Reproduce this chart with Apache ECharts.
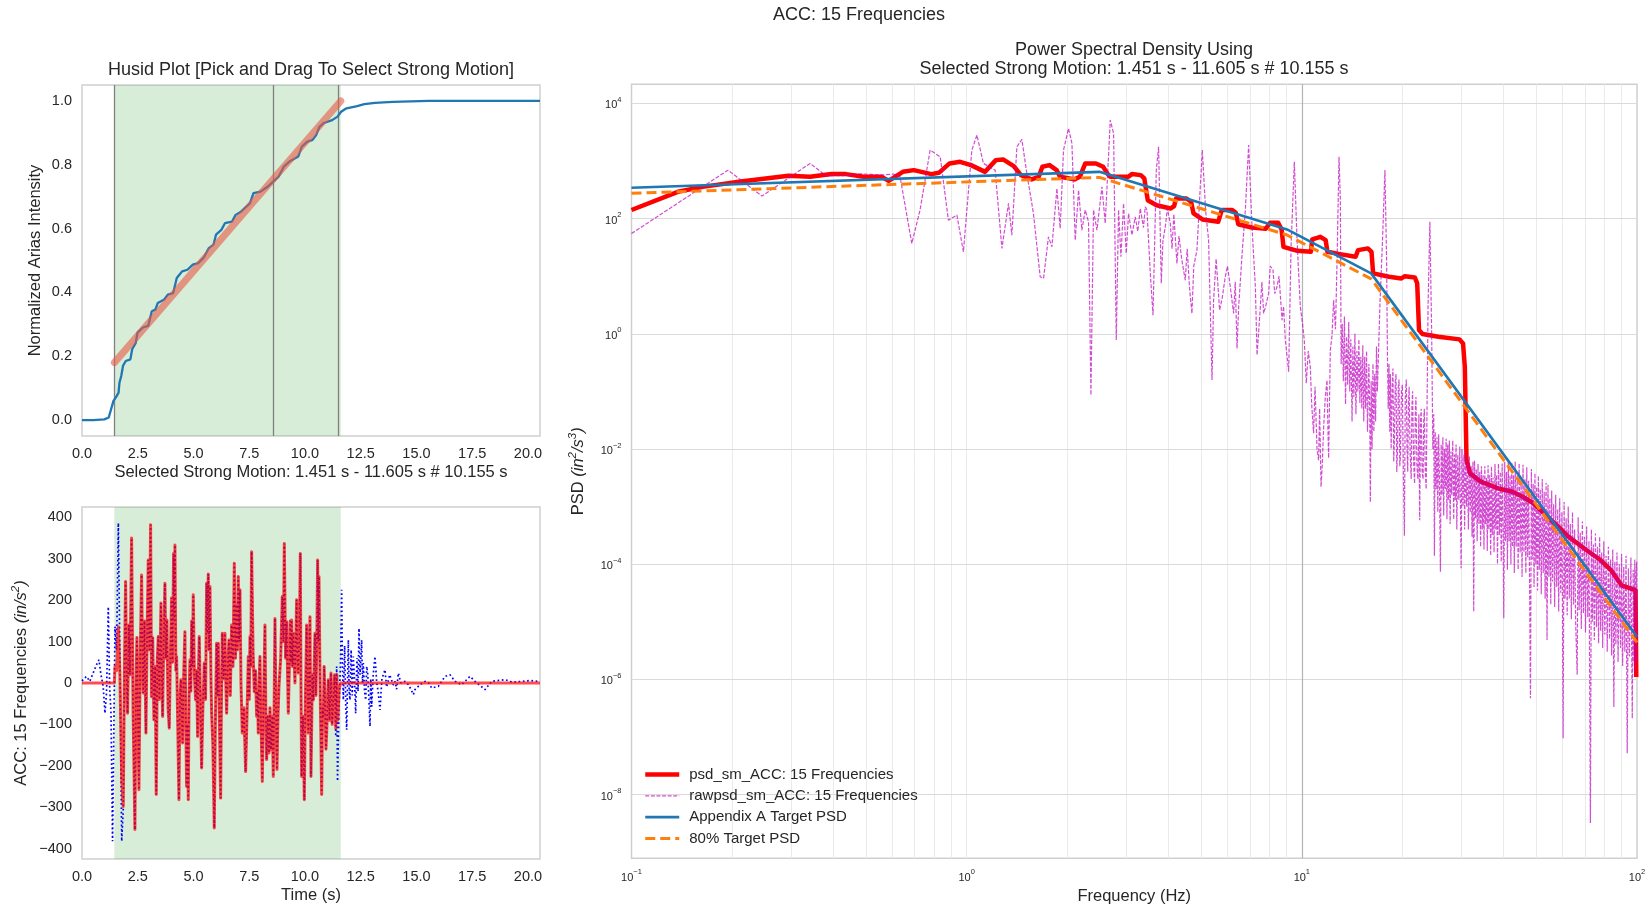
<!DOCTYPE html>
<html>
<head>
<meta charset="utf-8">
<title>ACC: 15 Frequencies</title>
<script src="https://cdn.jsdelivr.net/npm/echarts@6/dist/echarts.min.js"></script>
<style>
  html, body { margin: 0; padding: 0; background: #ffffff; }
  #chart { width: 1652px; height: 911px; }
</style>
</head>
<body>
<div id="chart"></div>
<script>
// ---------------------------------------------------------------------------
// Strong-motion selection
const selStart = 1.451;
const selEnd = 11.605;
const selDur = 10.155;
const husidMarks = [1.451, 8.57, 11.47];

// Husid plot: normalized Arias intensity [time s, intensity]
const husid = [
  [0, 0], [0.5, 0], [1.0, 0.002], [1.2, 0.008], [1.28, 0.013], [1.41, 0.06], [1.52, 0.071],
  [1.6, 0.075], [1.64, 0.086], [1.68, 0.117], [1.76, 0.138], [1.84, 0.17], [1.96, 0.185],
  [2.17, 0.19], [2.25, 0.222], [2.41, 0.242], [2.49, 0.274], [2.73, 0.29], [2.97, 0.295],
  [3.13, 0.341], [3.29, 0.346], [3.4, 0.367], [3.69, 0.378], [3.85, 0.393], [4.09, 0.398],
  [4.25, 0.445], [4.49, 0.466], [4.73, 0.471], [4.97, 0.487], [5.21, 0.492], [5.45, 0.508],
  [5.69, 0.539], [5.9, 0.55], [6.01, 0.581], [6.25, 0.596], [6.41, 0.617], [6.73, 0.622],
  [6.89, 0.643], [7.13, 0.653], [7.37, 0.669], [7.53, 0.679], [7.69, 0.711], [8.01, 0.716],
  [8.34, 0.732], [8.57, 0.747], [8.82, 0.763], [9.05, 0.794], [9.3, 0.81], [9.7, 0.826],
  [9.86, 0.857], [10.09, 0.872], [10.34, 0.878], [10.5, 0.893], [10.65, 0.919], [10.82, 0.93],
  [11.22, 0.94], [11.46, 0.951], [11.62, 0.966], [11.86, 0.977], [12.34, 0.984], [12.66, 0.99],
  [13.14, 0.994], [13.94, 0.997], [15.55, 1.0], [20.54, 1.0]
];
// Linear fit over the selected window
const husidFit = [[1.451, 0.18], [11.605, 1.0]];

// Acceleration time history [time s, in/s^2]
const accRaw = [
  [0, 5], [0.06, 8], [0.2, 16], [0.35, 4], [0.5, 24], [0.65, 44], [0.76, 56], [0.85, 20],
  [0.95, -8], [1.03, -73], [1.1, -24], [1.18, 184], [1.24, -8], [1.3, -73], [1.37, -382],
  [1.48, 136], [1.55, 80], [1.63, 386], [1.7, 60], [1.78, -382], [1.85, -306], [1.91, 60],
  [1.955, 245], [2.0, 30], [2.044, -73], [2.1, 140], [2.15, 20], [2.224, 350], [2.29, -60],
  [2.373, -354], [2.42, -20], [2.463, 110], [2.51, -80], [2.553, -258], [2.61, 60], [2.672, 261],
  [2.72, 40], [2.747, -24], [2.8, 150], [2.867, -121], [2.92, 120], [2.971, 297], [3.02, 80],
  [3.076, 382], [3.121, -33], [3.17, 110], [3.226, -89], [3.28, 40], [3.33, -269], [3.38, 60],
  [3.42, 112], [3.47, -40], [3.54, 193], [3.58, 20], [3.615, -81], [3.66, 90], [3.719, 241],
  [3.76, 60], [3.809, 152], [3.86, -60], [3.913, -109], [3.97, 80], [4.018, 205], [4.06, 50],
  [4.108, 313], [4.14, 150], [4.168, 333], [4.21, 30], [4.243, 64], [4.3, -120], [4.347, -282],
  [4.39, -40], [4.437, 8], [4.47, -60], [4.512, -145], [4.56, 20], [4.616, 124], [4.65, -60],
  [4.691, -250], [4.73, -100], [4.766, -282], [4.8, -40], [4.841, 56], [4.88, -20], [4.92, 150],
  [4.95, 40], [4.99, 213], [5.04, 20], [5.095, -41], [5.14, 30], [5.185, -129], [5.22, 20],
  [5.259, 112], [5.31, -40], [5.364, -205], [5.42, -60], [5.484, 48], [5.54, -40], [5.589, 241],
  [5.62, 120], [5.663, 263], [5.7, 80], [5.74, 233], [5.78, 20], [5.813, -73], [5.87, -150],
  [5.932, -350], [5.98, -100], [6.037, 96], [6.07, -30], [6.112, 96], [6.16, -80], [6.217, -278],
  [6.25, -60], [6.291, 120], [6.35, 10], [6.411, 120], [6.45, 0], [6.486, -73], [6.54, 40],
  [6.59, 104], [6.65, -30], [6.71, 140], [6.77, 40], [6.83, 289], [6.88, 60], [6.934, 189],
  [6.97, 80], [7.009, 257], [7.05, 100], [7.084, 225], [7.13, 0], [7.188, -121], [7.26, -60],
  [7.338, -214], [7.4, -80], [7.458, 64], [7.5, -40], [7.532, 112], [7.57, 40], [7.607, 317],
  [7.67, 80], [7.727, -21], [7.78, 30], [7.832, -81], [7.87, -20], [7.906, -121], [7.94, 0],
  [7.981, 64], [8.03, -100], [8.086, -238], [8.15, -20], [8.205, 140], [8.24, -60], [8.28, -185],
  [8.33, -80], [8.385, -169], [8.43, -60], [8.475, -161], [8.53, -80], [8.579, -226], [8.62, -40],
  [8.654, 156], [8.7, -60], [8.744, -209], [8.79, -80], [8.834, -8], [8.91, 60], [8.983, 209],
  [9.03, 100], [9.073, 337], [9.13, 60], [9.178, 148], [9.22, 20], [9.252, -73], [9.3, 40],
  [9.34, 150], [9.37, 50], [9.402, 152], [9.44, 40], [9.477, 120], [9.55, 0], [9.626, 201],
  [9.66, 60], [9.701, 24], [9.75, 120], [9.791, 313], [9.82, 0], [9.851, -226], [9.91, -80],
  [9.97, -282], [10.02, -40], [10.075, 140], [10.149, -121], [10.224, 160], [10.269, -226],
  [10.33, 20], [10.374, -41], [10.449, 120], [10.49, -30], [10.524, 72], [10.568, 297],
  [10.6, 100], [10.628, 257], [10.673, 16], [10.71, -120], [10.748, -269], [10.79, -60],
  [10.822, -81], [10.86, 40], [10.897, -41], [10.94, -160], [10.972, -121], [11.01, -60],
  [11.047, 8], [11.1, -90], [11.166, 24], [11.22, -100], [11.271, -41], [11.33, 20],
  [11.38, -129], [11.421, 40], [11.46, -237], [11.53, -50], [11.6, 60], [11.645, 225],
  [11.68, 40], [11.72, -41], [11.78, 90], [11.83, -60], [11.87, -113], [11.944, 104],
  [11.98, -20], [12.019, -41], [12.07, 80], [12.12, -30], [12.168, 64], [12.22, 10],
  [12.273, -73], [12.33, 60], [12.38, -20], [12.423, 132], [12.47, 20], [12.542, 104],
  [12.58, 0], [12.617, 48], [12.67, -20], [12.722, -41], [12.77, 40], [12.811, 24],
  [12.86, -30], [12.916, -105], [12.95, 10], [12.991, -57], [13.06, 20], [13.14, 64],
  [13.22, 0], [13.29, -24], [13.365, -65], [13.45, 10], [13.589, 32], [13.66, -10],
  [13.739, -8], [13.8, 20], [13.888, 24], [13.96, -5], [14.038, 4], [14.11, -15], [14.187, 24],
  [14.3, 0], [14.486, 4], [14.636, -4], [14.75, -15], [14.86, -28], [14.935, -16], [15.159, -4],
  [15.384, 4], [15.55, 0], [15.683, -12], [15.982, -8], [16.281, 16], [16.505, 20], [16.729, 4],
  [17.029, -4], [17.403, 16], [17.627, 4], [18.076, -16], [18.375, 4], [18.973, 8], [19.3, 2],
  [19.72, 4], [20.1, 6], [20.468, 4]
];
// Tapered edges of the selected (windowed) record
const accSelHead = [[1.48, 40], [1.55, 30], [1.63, 136], [1.7, 20], [1.78, -230], [1.85, -298]];
const accSelTail = [[11.33, 20], [11.38, -110], [11.43, 20], [11.47, -90], [11.53, -15]];

// Power spectral density [frequency Hz, in^2/s^3]
const psdSmooth = [
  [0.1, 141], [0.1375, 292], [0.163, 356], [0.209, 435], [0.294, 553], [0.341, 532], [0.395, 593],
  [0.436, 593], [0.493, 532], [0.557, 532], [0.585, 453], [0.645, 649], [0.695, 695], [0.785, 593],
  [0.826, 624], [0.889, 909], [0.956, 968], [1.03, 849], [1.135, 649], [1.222, 1037], [1.284, 1066],
  [1.382, 816], [1.452, 569], [1.562, 480], [1.641, 532], [1.682, 794], [1.767, 849], [1.855, 695],
  [1.901, 532], [2.098, 480], [2.176, 532], [2.259, 909], [2.43, 909], [2.555, 794], [2.627, 609],
  [2.68, 532], [3.038, 532], [3.112, 593], [3.307, 569], [3.388, 499], [3.47, 209], [3.687, 171],
  [4.062, 150], [4.16, 165], [4.212, 224], [4.526, 224], [4.672, 196], [4.753, 123], [5.051, 96.8],
  [5.629, 88], [5.77, 141], [6.2, 141], [6.353, 126], [6.463, 80], [7.087, 70], [7.806, 66.5],
  [8.037, 84.5], [8.499, 84.5], [8.703, 64.9], [8.813, 32.4], [9.703, 27.6], [10.64, 26.5],
  [10.74, 43.5], [11.36, 48.3], [11.78, 42.4], [11.92, 26.5], [12.98, 24.2], [14.47, 21.7],
  [14.72, 28.4], [15.74, 30.4], [16.14, 26.5], [16.32, 11.2], [18.21, 9.77], [19.82, 9.16],
  [20.3, 10.0], [21.73, 9.53], [22.09, 7.5], [22.37, 1.16], [22.91, 0.99], [25.56, 0.887],
  [29.54, 0.8], [30.27, 0.68], [30.64, 0.267], [31.0, 0.0064], [31.76, 0.00377], [34.2, 0.0027],
  [38.5, 0.00207], [42.5, 0.00181], [45.6, 0.00148], [49.1, 0.00114], [54.1, 0.000665],
  [58.2, 0.000446], [62.5, 0.000299], [70.6, 0.000176], [77.8, 0.000118], [83.6, 0.000079],
  [89.9, 0.000043], [99.0, 0.0000355], [99.5, 0.0000011]
];
const psdRaw = [
  [0.1, 55], [0.194, 695], [0.245, 246], [0.341, 909], [0.381, 553], [0.43, 560], [0.48, 600],
  [0.52, 585], [0.552, 569], [0.605, 593], [0.633, 532], [0.686, 37], [0.726, 141], [0.778, 1546],
  [0.834, 1183], [0.882, 94], [0.935, 115], [0.978, 26.5], [1.036, 1546], [1.073, 2818],
  [1.122, 909], [1.216, 695], [1.274, 30.4], [1.333, 184], [1.364, 51.7], [1.412, 1765],
  [1.461, 2371], [1.512, 609], [1.582, 123], [1.657, 9.77], [1.696, 9.16], [1.754, 48.3],
  [1.796, 32.4], [1.859, 334], [1.901, 67.6], [1.945, 1546], [2.013, 3681], [2.061, 2021],
  [2.108, 42.4], [2.157, 313], [2.207, 63], [2.258, 141], [2.31, 88], [2.348, 0.086], [2.39, 141],
  [2.447, 63], [2.533, 356], [2.591, 82.6], [2.682, 5129], [2.744, 3013], [2.795, 0.78],
  [2.839, 141], [2.886, 21.7], [2.938, 184], [2.993, 24.9], [3.041, 123], [3.112, 51.7],
  [3.184, 107], [3.24, 60], [3.296, 150], [3.37, 70], [3.41, 160], [3.451, 141], [3.531, 11.2],
  [3.597, 2.11], [3.68, 695], [3.738, 1765], [3.807, 7.5], [3.85, 40], [3.914, 72], [3.97, 150],
  [4.05, 82.6], [4.1, 30], [4.15, 120], [4.24, 16.7], [4.3, 50], [4.38, 20], [4.489, 8.56],
  [4.55, 30], [4.624, 6.14], [4.7, 2.26], [4.76, 15], [4.865, 28.4], [4.977, 356], [5.047, 1546],
  [5.162, 141], [5.27, 42.4], [5.395, 0.157], [5.455, 3.85], [5.55, 20], [5.684, 2.58], [5.78, 4],
  [5.91, 9.77], [6.0, 15], [6.117, 6.55], [6.258, 2.26], [6.33, 8], [6.407, 0.558], [6.48, 3],
  [6.554, 2.94], [6.65, 30], [6.783, 141], [6.939, 1888], [7.102, 72], [7.266, 6.55],
  [7.352, 0.427], [7.52, 2.94], [7.6, 8], [7.691, 2.26], [7.8, 3], [7.96, 5.03], [8.05, 15],
  [8.204, 12.8], [8.3, 5], [8.433, 6.55], [8.55, 10], [8.729, 1.73], [8.82, 3], [8.929, 0.78],
  [9.135, 0.219], [9.286, 32.4], [9.498, 968], [9.676, 42.4], [9.897, 2.94], [10.05, 1.5],
  [10.17, 0.78], [10.31, 0.138], [10.45, 0.5], [10.6, 0.267], [10.7, 0.06], [10.84, 0.0187],
  [10.95, 0.12], [11.1, 0.01], [11.22, 0.0064], [11.3, 0.05], [11.41, 0.0022], [11.5, 0.005],
  [11.62, 0.0243], [11.75, 0.08], [11.89, 0.157], [11.95, 0.03], [12.02, 0.0069], [12.16, 0.521],
  [12.3, 0.9], [12.44, 3.85], [12.6, 1.2], [12.74, 19], [12.91, 1183], [13.03, 209],
  [13.1, 0.3], [13.2, 1.5], [13.3, 0.15], [13.4, 2.0], [13.5, 0.06], [13.6, 0.9], [13.7, 0.13],
  [13.8, 1.6], [13.9, 0.1], [14.0, 0.8], [14.12, 0.03], [14.2, 0.6], [14.3, 0.08], [14.4, 1.0],
  [14.5, 0.04], [14.6, 0.5], [14.7, 0.1], [14.8, 0.8], [14.9, 0.063], [15.0, 0.4], [15.1, 0.05],
  [15.2, 0.63], [15.3, 0.03], [15.4, 0.4], [15.5, 0.05], [15.6, 0.5], [15.7, 0.02], [15.85, 0.3],
  [15.95, 0.04], [16.01, 0.0012], [16.1, 0.15], [16.2, 0.01], [16.3, 0.3], [16.4, 0.02],
  [16.5, 0.2], [16.6, 0.03], [16.7, 0.6], [16.8, 0.1], [17.1, 3.2], [17.4, 40], [17.7, 695],
  [17.9, 20], [18.0, 0.5], [18.1, 0.05], [18.2, 0.3], [18.3, 0.02], [18.38, 0.2], [18.47, 0.01],
  [18.6, 0.12], [18.7, 0.25], [18.8, 0.006], [18.9, 0.016], [19.0, 0.15], [19.1, 0.2],
  [19.2, 0.004], [19.3, 0.01], [19.4, 0.12], [19.5, 0.16], [19.6, 0.005], [19.7, 0.008],
  [19.82, 0.1], [19.95, 0.13], [20.1, 0.003], [20.23, 0.00031], [20.35, 0.08], [20.5, 0.16],
  [20.6, 0.01], [20.7, 0.004], [20.8, 0.06], [20.9, 0.12], [21.05, 0.008], [21.2, 0.003],
  [21.3, 0.05], [21.4, 0.1], [21.55, 0.006], [21.7, 0.0025], [21.8, 0.04], [21.9, 0.08],
  [22.05, 0.005], [22.2, 0.003], [22.35, 0.04], [22.47, 0.00058], [22.6, 0.03], [22.7, 0.05],
  [22.85, 0.004], [23.0, 0.003], [23.1, 0.03], [23.2, 0.05], [23.35, 0.004], [23.5, 0.002],
  [23.8, 3.0], [24.1, 88], [24.4, 1.0], [24.6, 0.01], [24.75, 0.04], [24.86, 0.00014],
  [25.0, 0.02], [25.15, 0.002], [25.3, 0.016], [25.45, 0.0008], [25.6, 0.018], [25.75, 0.0025],
  [25.91, 0.000074], [26.05, 0.012], [26.2, 0.0016], [26.35, 0.016], [26.5, 0.0007],
  [26.65, 0.01], [26.8, 0.002], [26.95, 0.015], [27.1, 0.0006], [27.25, 0.012], [27.4, 0.0013],
  [27.55, 0.014], [27.7, 0.0005], [27.85, 0.009], [28.0, 0.0016], [28.2, 0.014], [28.39, 0.0006],
  [28.55, 0.008], [28.7, 0.0013], [28.85, 0.012], [29.0, 0.0004], [29.2, 0.0079], [29.4, 0.0013],
  [29.6, 0.011], [29.87, 0.000085], [30.05, 0.01], [30.25, 0.001], [30.45, 0.0079], [30.6, 0.0004],
  [30.8, 0.009], [31.0, 0.001], [31.2, 0.0063], [31.4, 0.0004], [31.6, 0.0075], [31.8, 0.00079],
  [32.0, 0.005], [32.2, 0.0003], [32.4, 0.006], [32.57, 0.000015], [32.75, 0.0063],
  [32.95, 0.00063], [33.15, 0.0045], [33.35, 0.00025], [33.55, 0.0055], [33.75, 0.0005],
  [33.95, 0.004], [34.15, 0.0002], [34.35, 0.005], [34.55, 0.0004], [34.75, 0.0035],
  [34.95, 0.00018], [35.15, 0.005], [35.35, 0.0005], [35.55, 0.0032], [35.75, 0.00017],
  [35.95, 0.0052], [36.15, 0.0004], [36.35, 0.0035], [36.6, 0.00014], [36.8, 0.005],
  [37.0, 0.00032], [37.2, 0.0032], [37.45, 0.00016], [37.7, 0.0055], [37.9, 0.0004],
  [38.1, 0.0035], [38.35, 0.0001], [38.6, 0.0056], [38.85, 0.00032], [39.1, 0.004],
  [39.35, 0.00011], [39.6, 0.0056], [39.85, 0.00032], [40.04, 0.0000115], [40.3, 0.006],
  [40.55, 0.00025], [40.8, 0.004], [41.05, 0.00008], [41.3, 0.0063], [41.55, 0.00025],
  [41.8, 0.0035], [42.05, 0.0001], [42.3, 0.0058], [42.55, 0.0002], [42.8, 0.0035],
  [43.05, 0.00007], [43.3, 0.006], [43.6, 0.0002], [43.9, 0.0035], [44.2, 0.00008],
  [44.5, 0.0056], [44.8, 0.00016], [45.1, 0.003], [45.4, 0.00006], [45.7, 0.0053],
  [46.0, 0.00016], [46.3, 0.003], [46.6, 0.00007], [46.9, 0.0048], [47.2, 0.00013],
  [47.5, 0.0028], [47.8, 0.00005], [48.1, 0.00000047], [48.4, 0.0045], [48.7, 0.00012],
  [49.0, 0.0025], [49.3, 0.00004], [49.6, 0.0038], [49.9, 0.0001], [50.2, 0.0022],
  [50.5, 0.000035], [50.8, 0.0034], [51.1, 0.00008], [51.45, 0.002], [51.8, 0.00003],
  [52.15, 0.003], [52.5, 0.00007], [52.85, 0.0018], [53.2, 0.000025], [53.55, 0.0026],
  [53.9, 0.0000048], [54.25, 0.0024], [54.6, 0.00006], [54.95, 0.0014], [55.3, 0.00002],
  [55.65, 0.0019], [56.0, 0.00005], [56.4, 0.0011], [56.8, 0.000018], [57.2, 0.0016],
  [57.6, 0.00004], [58.0, 0.0009], [58.4, 0.000015], [58.8, 0.0014], [59.2, 0.000032],
  [59.7, 0.0008], [60.2, 0.000000095], [60.6, 0.0012], [61.0, 0.000025], [61.45, 0.00063],
  [61.9, 0.000013], [62.35, 0.001], [62.8, 0.000025], [63.25, 0.0005], [63.7, 0.000011],
  [64.2, 0.0008], [64.7, 0.00002], [65.15, 0.0004], [65.6, 0.00001], [66.3, 0.0000012],
  [66.75, 0.00065], [67.2, 0.000016], [67.7, 0.00035], [68.2, 0.0000075], [68.7, 0.00055],
  [69.2, 0.000014], [69.7, 0.0003], [70.2, 0.0000065], [70.75, 0.00045], [71.3, 0.000012],
  [71.9, 0.00025], [72.6, 0.0000000032], [73.1, 0.0004], [73.6, 0.00001], [74.1, 0.00022],
  [74.6, 0.0000048], [75.15, 0.00034], [75.7, 0.000008], [76.25, 0.0002], [76.8, 0.0000042],
  [77.35, 0.0003], [77.9, 0.000007], [78.45, 0.00016], [79.0, 0.0000035], [79.6, 0.00025],
  [80.2, 0.000006], [80.85, 0.00014], [81.5, 0.000003], [82.15, 0.0002], [82.8, 0.000005],
  [83.4, 0.00012], [84.0, 0.0000026], [84.65, 0.00018], [85.3, 0.00000033], [85.9, 0.00011],
  [86.5, 0.000004], [87.15, 0.00016], [87.8, 0.000002], [88.55, 0.0001], [89.3, 0.0000035],
  [89.95, 0.00015], [90.6, 0.0000017], [91.3, 0.00009], [92.0, 0.000003], [92.75, 0.00014],
  [93.5, 0.000000052], [94.25, 0.000085], [95.0, 0.0000025], [95.9, 0.00013], [96.8, 0.00000021],
  [97.4, 0.00008], [98.0, 0.000002], [98.5, 0.00012], [99.0, 0.0000013], [99.4, 0.00007],
  [99.8, 0.00011], [100, 0.000002]
];
const targetPsd = [[0.1, 343], [2.49, 649], [9.03, 64.9], [16.1, 11.2], [100, 0.0000055]];
const target80Psd = [[0.1, 275], [2.49, 519], [9.03, 52], [16.1, 9.0], [100, 0.0000044]];

// Tick values
const timeTicks = [0, 2.5, 5, 7.5, 10, 12.5, 15, 17.5, 20];
const husidTicks = [0, 0.2, 0.4, 0.6, 0.8, 1.0];
const accTicks = [-400, -300, -200, -100, 0, 100, 200, 300, 400];
const freqTicks = [0.1, 1, 10, 100];
const psdTicks = [1e-8, 1e-6, 1e-4, 1e-2, 1, 1e2, 1e4];

// ---------------------------------------------------------------------------
const FONT = '"Liberation Sans", Arial, Helvetica, sans-serif';
const INK = '#262626';
const MINUS = '\u2212';
const T_MAX = 20.54;
const PSD_YMIN = 7.8e-10, PSD_YMAX = 2.15e4;
const PSD_XMIN = 0.1, PSD_XMAX = 100;

const fmtSigned = v => (v < 0 ? MINUS + Math.abs(v) : String(v));
const fmtPow = v => {
  const e = Math.round(Math.log10(v));
  return '{b|10}{s|' + (e < 0 ? MINUS + Math.abs(e) : e) + '}';
};
const powRich = {
  b: { fontSize: 11, lineHeight: 15, verticalAlign: 'bottom', color: INK, fontFamily: FONT },
  s: { fontSize: 7.5, lineHeight: 8, verticalAlign: 'top', color: INK, fontFamily: FONT }
};
const unitRich = {
  i: { fontSize: 16.5, fontStyle: 'italic', color: INK, fontFamily: FONT, lineHeight: 20, verticalAlign: 'bottom' },
  u: { fontSize: 11.5, fontStyle: 'italic', color: INK, fontFamily: FONT, lineHeight: 11, verticalAlign: 'top' },
  n: { fontSize: 16.5, color: INK, fontFamily: FONT, lineHeight: 20, verticalAlign: 'bottom' }
};

// Selected window for the red trace (zero outside the window)
const headEnd = accSelHead[accSelHead.length - 1][0];
const tailStart = accSelTail[0][0];
const accSel = [[0, 0], [selStart, 0]]
  .concat(accSelHead)
  .concat(accRaw.filter(p => p[0] > headEnd && p[0] < tailStart))
  .concat(accSelTail)
  .concat([[selEnd, 0], [T_MAX, 0]]);

// Log-grid positions for the PSD panel
const minorFreqs = [];
[0.1, 1, 10].forEach(d => { for (let k = 2; k <= 9; k++) minorFreqs.push(+(k * d).toPrecision(3)); });
minorFreqs.push(1);

function vlines(xs, y0, y1) { return xs.map(x => ({ coords: [[x, y0], [x, y1]] })); }
function hlines(ys, x0, x1) { return ys.map(y => ({ coords: [[x0, y], [x1, y]] })); }

const baseAxis = {
  axisLine: { show: false },
  axisTick: { show: false },
  splitLine: { show: false },
  nameLocation: 'middle',
  nameTextStyle: { fontSize: 16.5, color: INK, fontFamily: FONT }
};
const titleStyle = { fill: INK, font: '18px ' + FONT, textAlign: 'center', textVerticalAlign: 'middle', align: 'center', verticalAlign: 'middle' };

const chart = echarts.init(document.getElementById('chart'), null, { renderer: 'canvas' });

const option = {
  animation: false,
  backgroundColor: '#ffffff',
  textStyle: { fontFamily: FONT, color: INK },
  graphic: [
    { type: 'text', x: 859, y: 15, style: Object.assign({ text: 'ACC: 15 Frequencies' }, titleStyle) },
    { type: 'text', x: 311, y: 70, style: Object.assign({ text: 'Husid Plot [Pick and Drag To Select Strong Motion]' }, titleStyle) },
    { type: 'text', x: 1134, y: 50, style: Object.assign({ text: 'Power Spectral Density Using' }, titleStyle) },
    { type: 'text', x: 1134, y: 69.5, style: Object.assign({ text: 'Selected Strong Motion: ' + selStart.toFixed(3) + ' s - ' + selEnd.toFixed(3) + ' s # ' + selDur.toFixed(3) + ' s' }, titleStyle) }
  ],
  grid: [
    { left: 82, top: 85, width: 458, height: 351, show: true, borderColor: '#cfcfcf', borderWidth: 1.5, backgroundColor: 'transparent' },
    { left: 82, top: 507, width: 458, height: 352, show: true, borderColor: '#cfcfcf', borderWidth: 1.5, backgroundColor: 'transparent' },
    { left: 631.5, top: 84.3, width: 1005.5, height: 774, show: true, borderColor: '#cfcfcf', borderWidth: 1.5, backgroundColor: 'transparent' }
  ],
  xAxis: [
    Object.assign({}, baseAxis, {
      gridIndex: 0, type: 'value', min: 0, max: T_MAX,
      name: 'Selected Strong Motion: ' + selStart.toFixed(3) + ' s - ' + selEnd.toFixed(3) + ' s # ' + selDur.toFixed(3) + ' s',
      nameGap: 28,
      axisLabel: { customValues: timeTicks, formatter: v => v.toFixed(1), fontSize: 14.5, color: INK, margin: 10 }
    }),
    Object.assign({}, baseAxis, {
      gridIndex: 1, type: 'value', min: 0, max: T_MAX, name: 'Time (s)', nameGap: 28,
      axisLabel: { customValues: timeTicks, formatter: v => v.toFixed(1), fontSize: 14.5, color: INK, margin: 10 }
    }),
    Object.assign({}, baseAxis, {
      gridIndex: 2, type: 'log', logBase: 10, min: PSD_XMIN, max: PSD_XMAX, name: 'Frequency (Hz)', nameGap: 30,
      axisLabel: { customValues: freqTicks, formatter: fmtPow, rich: powRich, margin: 10 }
    })
  ],
  yAxis: [
    Object.assign({}, baseAxis, {
      gridIndex: 0, type: 'value', min: -0.05, max: 1.05, name: 'Normalized Arias Intensity', nameGap: 38,
      axisLabel: { customValues: husidTicks, formatter: v => v.toFixed(1), fontSize: 14.5, color: INK, margin: 10 }
    }),
    Object.assign({}, baseAxis, {
      gridIndex: 1, type: 'value', min: -425, max: 425,
      name: '{n|ACC: 15 Frequencies }{i|(in/s}{u|2}{i|)}', nameGap: 52,
      nameTextStyle: { fontSize: 16.5, color: INK, fontFamily: FONT, rich: unitRich },
      axisLabel: { customValues: accTicks, formatter: fmtSigned, fontSize: 14.5, color: INK, margin: 10 }
    }),
    Object.assign({}, baseAxis, {
      gridIndex: 2, type: 'log', logBase: 10, min: PSD_YMIN, max: PSD_YMAX,
      name: '{n|PSD }{i|(in}{u|2}{i|/s}{u|3}{i|)}', nameGap: 45,
      nameTextStyle: { fontSize: 16.5, color: INK, fontFamily: FONT, rich: unitRich },
      axisLabel: { customValues: psdTicks, formatter: fmtPow, rich: powRich, margin: 10 }
    })
  ],
  legend: {
    orient: 'vertical', left: 643, top: 767, padding: 0,
    itemWidth: 34, itemHeight: 14, itemGap: 6.3,
    selectedMode: false,
    itemStyle: { opacity: 0 },
    lineStyle: { width: 'inherit' },
    textStyle: { fontSize: 15, color: INK, fontFamily: FONT, padding: [0, 0, 0, 5] },
    data: ['psd_sm_ACC: 15 Frequencies', 'rawpsd_sm_ACC: 15 Frequencies', 'Appendix A Target PSD', '80% Target PSD']
  },
  series: [
    // Husid panel
    {
      type: 'lines', coordinateSystem: 'cartesian2d', xAxisIndex: 0, yAxisIndex: 0, silent: true, z: 2,
      lineStyle: { color: '#808080', width: 1.3, opacity: 1 },
      data: vlines(husidMarks, -0.05, 1.05)
    },
    {
      name: 'husid', type: 'line', xAxisIndex: 0, yAxisIndex: 0, data: husid, symbol: 'none', z: 3, silent: true,
      lineStyle: { color: '#1f77b4', width: 2.3 },
      markArea: { silent: true, itemStyle: { color: 'rgba(44,160,44,0.19)' }, data: [[{ xAxis: selStart }, { xAxis: selEnd }]] }
    },
    {
      name: 'fit', type: 'line', xAxisIndex: 0, yAxisIndex: 0, data: husidFit, symbol: 'none', z: 4, silent: true,
      lineStyle: { color: 'rgba(232,90,72,0.6)', width: 7, cap: 'round' }
    },
    // Acceleration panel
    {
      name: 'acc', type: 'line', xAxisIndex: 1, yAxisIndex: 1, data: accRaw, symbol: 'none', z: 3, silent: true,
      lineStyle: { color: '#0000ff', width: 1.7, type: [1.7, 2.6], cap: 'butt' },
      markArea: { silent: true, itemStyle: { color: 'rgba(44,160,44,0.19)' }, data: [[{ xAxis: selStart }, { xAxis: selEnd }]] }
    },
    {
      name: 'accSel', type: 'line', xAxisIndex: 1, yAxisIndex: 1, data: accSel, symbol: 'none', z: 4, silent: true,
      lineStyle: { color: 'rgba(255,0,0,0.7)', width: 3, join: 'round' }
    },
    // PSD panel grid
    {
      type: 'lines', coordinateSystem: 'cartesian2d', xAxisIndex: 2, yAxisIndex: 2, silent: true, z: 1,
      lineStyle: { color: '#ebebeb', width: 1, opacity: 1 },
      data: vlines(minorFreqs, PSD_YMIN, PSD_YMAX)
    },
    {
      type: 'lines', coordinateSystem: 'cartesian2d', xAxisIndex: 2, yAxisIndex: 2, silent: true, z: 1,
      lineStyle: { color: '#dadada', width: 1.2, opacity: 1 },
      data: hlines(psdTicks, PSD_XMIN, PSD_XMAX)
    },
    {
      type: 'lines', coordinateSystem: 'cartesian2d', xAxisIndex: 2, yAxisIndex: 2, silent: true, z: 1,
      lineStyle: { color: '#b4b4b4', width: 1.2, opacity: 1 },
      data: vlines([10], PSD_YMIN, PSD_YMAX)
    },
    {
      name: 'psd_sm_ACC: 15 Frequencies', type: 'line', xAxisIndex: 2, yAxisIndex: 2, data: psdSmooth,
      symbol: 'none', z: 2, silent: true, lineStyle: { color: '#ff0000', width: 4.5, join: 'round' }
    },
    {
      name: 'rawpsd_sm_ACC: 15 Frequencies', type: 'line', xAxisIndex: 2, yAxisIndex: 2, data: psdRaw,
      symbol: 'none', z: 3, silent: true, lineStyle: { color: 'rgba(191,0,191,0.7)', width: 1.2, type: [4, 1.6] }
    },
    {
      name: 'Appendix A Target PSD', type: 'line', xAxisIndex: 2, yAxisIndex: 2, data: targetPsd,
      symbol: 'none', z: 4, silent: true, lineStyle: { color: '#1f77b4', width: 2.6 }
    },
    {
      name: '80% Target PSD', type: 'line', xAxisIndex: 2, yAxisIndex: 2, data: target80Psd,
      symbol: 'none', z: 5, silent: true, lineStyle: { color: '#ff7f0e', width: 3, type: [10, 5] }
    }
  ]
};

chart.setOption(option);
</script>
</body>
</html>
